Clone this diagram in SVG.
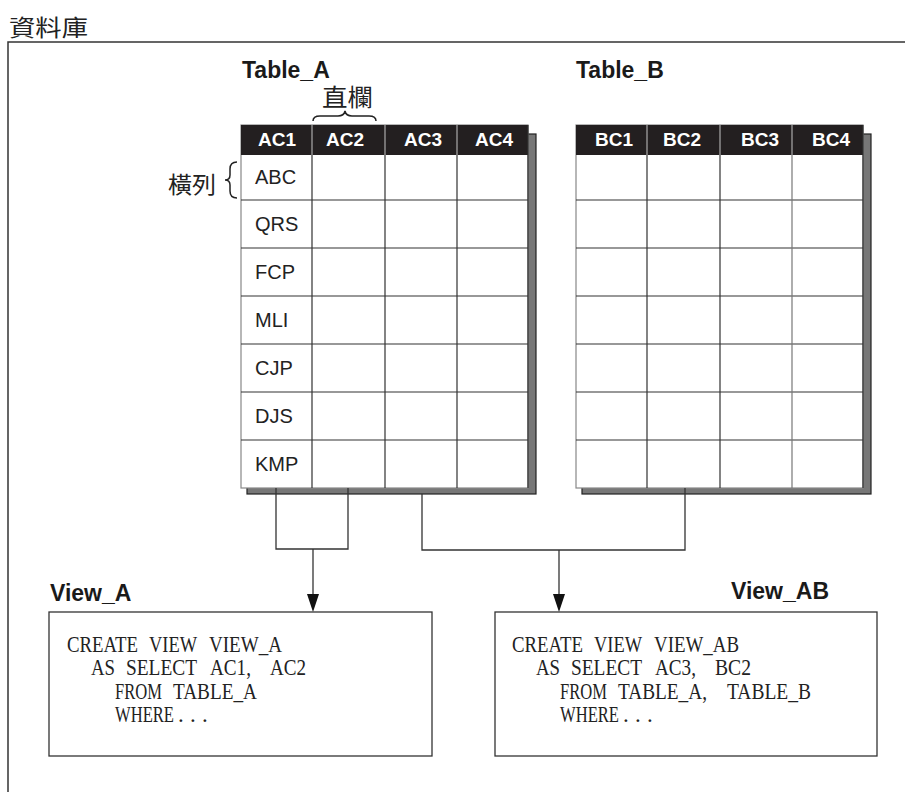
<svg xmlns="http://www.w3.org/2000/svg" width="905" height="792" viewBox="0 0 905 792">
<style>
.cjk{font-family:"Noto Sans CJK TC","Noto Sans CJK SC",sans-serif;fill:#222}
.ttl{font-family:"Liberation Sans",Arial,sans-serif;font-weight:bold;font-size:23px;fill:#1a1a1a}
.hd{font-family:"Liberation Sans",Arial,sans-serif;font-weight:bold;font-size:19px;fill:#fff;text-anchor:middle}
.cell{font-family:"Liberation Sans",Arial,sans-serif;font-size:20px;fill:#222}
.code{font-family:"Liberation Serif","Times New Roman",serif;font-size:23px;fill:#222}
.grid{stroke:#333;stroke-width:1.2;fill:none}
.hsep{stroke:#aaa;stroke-width:1.2}
.shadow{fill:#777;stroke:#222;stroke-width:1.2}
.conn{stroke:#333;stroke-width:1.3;fill:none}
.box{fill:#fff;stroke:#333;stroke-width:1.3}
.brace{stroke:#222;stroke-width:1.5;fill:none}
</style>
<rect width="905" height="792" fill="#fff"/>
<g id="frame">
<path d="M905,42 H8 V792" stroke="#333" stroke-width="1.5" fill="none"/>
<text class="cjk" x="9" y="36" font-size="23" textLength="79" lengthAdjust="spacingAndGlyphs">資料庫</text>
</g>

<g id="table_a">
<rect class="shadow" x="247" y="134" width="289" height="360"/>
<rect x="241" y="125" width="287" height="363" fill="#fff" stroke="#888" stroke-width="1.2"/>
<rect x="241" y="125" width="287" height="30" fill="#231f20"/>
<line class="hsep" x1="312" y1="125" x2="312" y2="155"/>
<line class="hsep" x1="385" y1="125" x2="385" y2="155"/>
<line class="hsep" x1="457" y1="125" x2="457" y2="155"/>
<path class="grid" d="M312,155 V488 M385,155 V488 M457,155 V488 M241,200 H528 M241,248 H528 M241,296 H528 M241,344 H528 M241,392 H528 M241,440 H528 M528,125 V488"/>
<text class="ttl" x="242" y="78">Table_A</text>
<text class="hd" x="277" y="146">AC1</text>
<text class="hd" x="345" y="146">AC2</text>
<text class="hd" x="423" y="146">AC3</text>
<text class="hd" x="494" y="146">AC4</text>
<text class="cell" x="255" y="184">ABC</text>
<text class="cell" x="255" y="231">QRS</text>
<text class="cell" x="255" y="279">FCP</text>
<text class="cell" x="255" y="327">MLI</text>
<text class="cell" x="255" y="375">CJP</text>
<text class="cell" x="255" y="423">DJS</text>
<text class="cell" x="255" y="471">KMP</text>
</g>

<g id="label_column">
<text class="cjk" x="322" y="106" font-size="24" textLength="51" lengthAdjust="spacingAndGlyphs">直欄</text>
<path class="brace" d="M313,121 Q313,116 320,116 L338,116 Q344,116 345,111 Q346,116 352,116 L369,116 Q376,116 376,121"/>
</g>

<g id="label_row">
<text class="cjk" x="168" y="193" font-size="23" textLength="48" lengthAdjust="spacingAndGlyphs">橫列</text>
<path class="brace" d="M237,162 Q230,162 230,169 L230,175 Q230,180 225,180 Q230,180 230,185 L230,191 Q230,198 237,198"/>
</g>

<g id="table_b">
<rect class="shadow" x="582" y="134" width="289" height="360"/>
<rect x="576" y="125" width="287" height="363" fill="#fff" stroke="#888" stroke-width="1.2"/>
<rect x="576" y="125" width="287" height="30" fill="#231f20"/>
<line class="hsep" x1="647" y1="125" x2="647" y2="155"/>
<line class="hsep" x1="720" y1="125" x2="720" y2="155"/>
<line class="hsep" x1="792" y1="125" x2="792" y2="155"/>
<path class="grid" d="M647,155 V488 M720,155 V488 M576,200 H863 M576,248 H863 M576,296 H863 M576,344 H863 M576,392 H863 M576,440 H863 M863,125 V488"/>
<path d="M792,155 V488" stroke="#777" stroke-width="1.2"/>
<text class="ttl" x="576" y="78">Table_B</text>
<text class="hd" x="614" y="146">BC1</text>
<text class="hd" x="682" y="146">BC2</text>
<text class="hd" x="760" y="146">BC3</text>
<text class="hd" x="831" y="146">BC4</text>
</g>

<g id="connectors">
<path class="conn" d="M276,488 V549 H348 V488"/>
<path class="conn" d="M313,549 V596"/>
<polygon points="307,594 319,594 313,612" fill="#111"/>
<path class="conn" d="M422,494 V550 H685 V488"/>
<path class="conn" d="M559,550 V596"/>
<polygon points="553,594 565,594 559,612" fill="#111"/>
</g>

<g id="view_a">
<text class="ttl" x="50" y="601">View_A</text>
<rect class="box" x="49" y="612" width="383" height="144"/>
<text class="code" x="67" y="652" textLength="71" lengthAdjust="spacingAndGlyphs">CREATE</text>
<text class="code" x="149" y="652" textLength="48" lengthAdjust="spacingAndGlyphs">VIEW</text>
<text class="code" x="209" y="652" textLength="73" lengthAdjust="spacingAndGlyphs">VIEW_A</text>
<text class="code" x="91" y="675" textLength="24" lengthAdjust="spacingAndGlyphs">AS</text>
<text class="code" x="126" y="675" textLength="71" lengthAdjust="spacingAndGlyphs">SELECT</text>
<text class="code" x="210" y="675" textLength="41" lengthAdjust="spacingAndGlyphs">AC1,</text>
<text class="code" x="270" y="675" textLength="36" lengthAdjust="spacingAndGlyphs">AC2</text>
<text class="code" x="115" y="699" textLength="47" lengthAdjust="spacingAndGlyphs">FROM</text>
<text class="code" x="173" y="699" textLength="84" lengthAdjust="spacingAndGlyphs">TABLE_A</text>
<text class="code" x="115" y="722" textLength="59" lengthAdjust="spacingAndGlyphs">WHERE</text>
<text class="code" x="178 190 202" y="722">...</text>
</g>

<g id="view_ab">
<text class="ttl" x="731" y="599">View_AB</text>
<rect class="box" x="495" y="612" width="382" height="144"/>
<text class="code" x="512" y="652" textLength="71" lengthAdjust="spacingAndGlyphs">CREATE</text>
<text class="code" x="594" y="652" textLength="48" lengthAdjust="spacingAndGlyphs">VIEW</text>
<text class="code" x="654" y="652" textLength="85" lengthAdjust="spacingAndGlyphs">VIEW_AB</text>
<text class="code" x="536" y="675" textLength="24" lengthAdjust="spacingAndGlyphs">AS</text>
<text class="code" x="571" y="675" textLength="71" lengthAdjust="spacingAndGlyphs">SELECT</text>
<text class="code" x="655" y="675" textLength="41" lengthAdjust="spacingAndGlyphs">AC3,</text>
<text class="code" x="715" y="675" textLength="36" lengthAdjust="spacingAndGlyphs">BC2</text>
<text class="code" x="560" y="699" textLength="47" lengthAdjust="spacingAndGlyphs">FROM</text>
<text class="code" x="618" y="699" textLength="89" lengthAdjust="spacingAndGlyphs">TABLE_A,</text>
<text class="code" x="727" y="699" textLength="84" lengthAdjust="spacingAndGlyphs">TABLE_B</text>
<text class="code" x="560" y="722" textLength="59" lengthAdjust="spacingAndGlyphs">WHERE</text>
<text class="code" x="623 635 647" y="722">...</text>
</g>
</svg>
